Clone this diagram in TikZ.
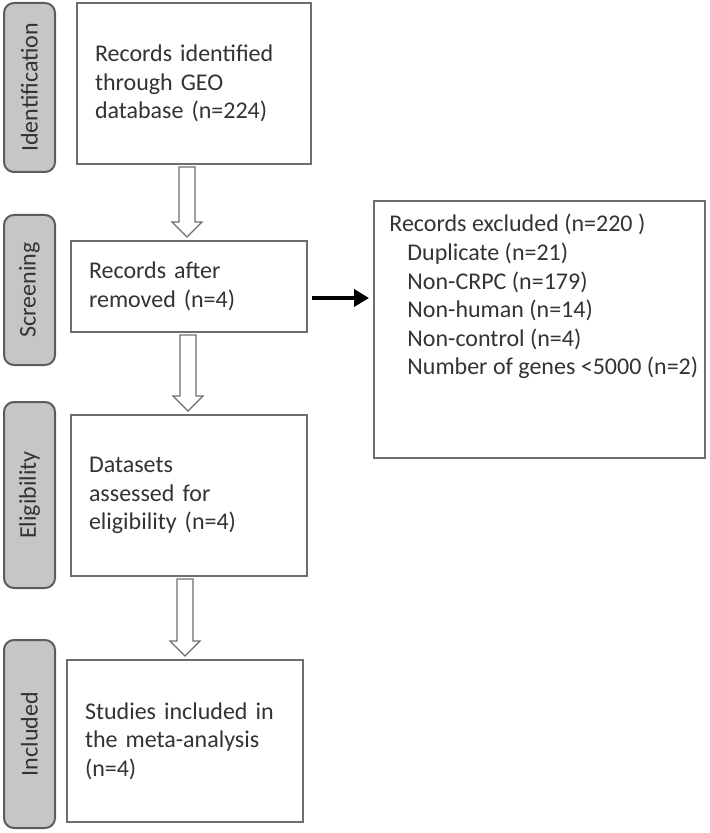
\documentclass[tikz,border=0pt]{standalone}
\usepackage{fontspec}
\setmainfont{Carlito}
\usetikzlibrary{arrows.meta, calc}
\definecolor{boxgray}{HTML}{6E6E6E}
\definecolor{txtgray}{HTML}{333333}
\definecolor{tabfill}{HTML}{C6C6C6}
\definecolor{tabline}{HTML}{5C5C5C}
\tikzset{
  stage/.style={draw=tabline, fill=tabfill, line width=1pt, rounded corners=5pt,
    rotate=90, minimum height=25.5pt, inner sep=0pt, text=txtgray,
    font=\fontsize{12pt}{14pt}\selectfont},
  flowbox/.style={draw=boxgray, line width=1pt, fill=white, align=left,
    inner xsep=9pt, inner ysep=0pt, text=txtgray,
    font=\fontsize{12pt}{14.3pt}\selectfont},
  hollow/.style={draw=boxgray, line width=0.6pt, fill=white, line join=miter},
  exclarrow/.style={line width=2.2pt, -{Triangle[length=7.5pt,width=8.5pt]}, shorten >=2pt}
}
% hollow down arrow between two boxes: from, to, x offset
\newcommand{\hollowarrow}[3]{%
  \path ($(#1.south)+(#3,2)$) coordinate (arrtop) (arrtop |- #2.north) coordinate (arrtip);
  \draw[hollow] ($(arrtop)+(-8,0)$) -- ($(arrtip)+(-8,-18)$)
    -- ($(arrtip)+(-15,-18)$) -- ($(arrtip)+(0,-3)$)
    -- ($(arrtip)+(15,-18)$) -- ($(arrtip)+(8,-18)$)
    -- ($(arrtop)+(8,0)$) -- cycle;}
\begin{document}
\begin{tikzpicture}[x=0.5pt, y=-0.5pt]
  \useasboundingbox (0,0) rectangle (709,833);
%% stage tabs
  \node[stage, minimum width=84.5pt] (tabident) at (29.5,87.5) {Identification};
  \node[stage, minimum width=75pt] (tabscreen) at (29.5,290) {Screening};
  \node[stage, minimum width=93pt] (tabelig) at (29.5,495) {Eligibility};
  \node[stage, minimum width=94pt] (tabincl) at (29.5,734) {Included};
%% flow boxes
  \node[flowbox, text width=99pt, minimum height=80.5pt] (ident) at (194,83.5)
    {Records identified\\through GEO\\database (n=224)};
  \node[flowbox, text width=100pt, minimum height=45.5pt] (screen) at (189,286.5)
    {Records after\\removed (n=4)};
  \node[flowbox, text width=100pt, minimum height=80.5pt] (elig) at (189,495.5)
    {Datasets\\assessed for\\eligibility (n=4)};
  \node[flowbox, text width=100pt, minimum height=81pt] (incl) at (185,741)
    {Studies included in\\the meta-analysis\\(n=4)};
%% excluded records
  \node[draw=boxgray, line width=1pt, minimum width=165.5pt, minimum height=128.5pt,
    inner sep=0pt] (excluded) at (539.5,329.5) {};
  \node[anchor=north west, align=left, inner sep=0pt, text=txtgray,
    font=\fontsize{12pt}{14.3pt}\selectfont] (exclist) at ($(excluded.north west)+(16,14)$)
    {Records excluded (n=220 )\\
     \hspace*{9pt}Duplicate (n=21)\\
     \hspace*{9pt}Non-CRPC (n=179)\\
     \hspace*{9pt}Non-human (n=14)\\
     \hspace*{9pt}Non-control (n=4)\\
     \hspace*{9pt}Number of genes <5000 (n=2)};
%% arrows
  \hollowarrow{ident}{screen}{-7}
  \hollowarrow{screen}{elig}{-1}
  \hollowarrow{elig}{incl}{-4}
  \draw[exclarrow] ($(screen.east)+(4,11.5)$) coordinate (outlet) -- (outlet -| excluded.west);
\end{tikzpicture}
\end{document}
